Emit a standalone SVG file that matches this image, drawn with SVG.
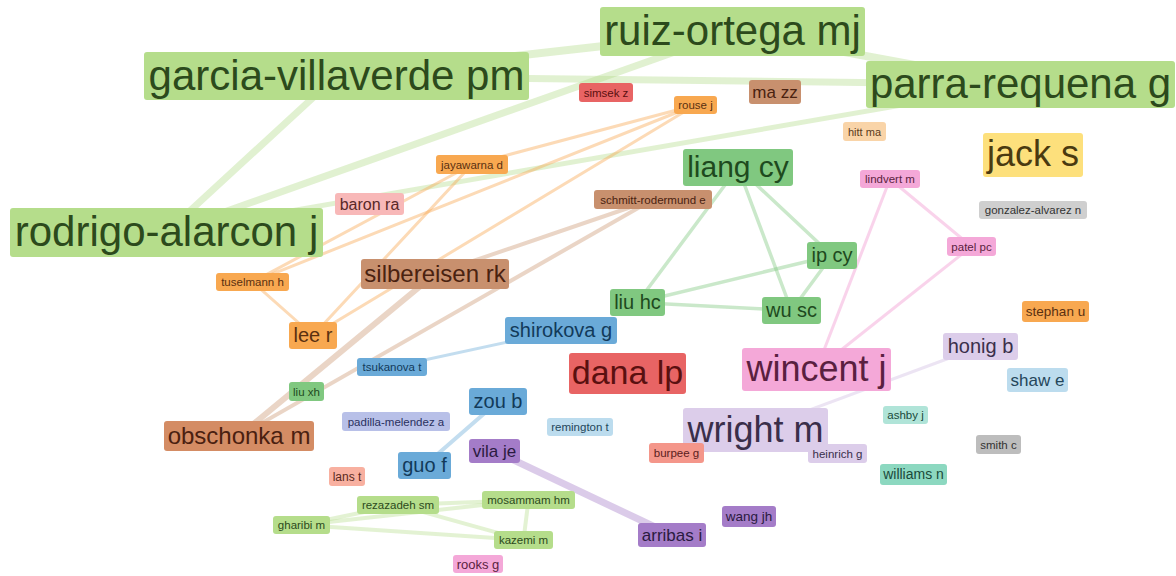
<svg xmlns="http://www.w3.org/2000/svg" width="1176" height="576" viewBox="0 0 1176 576">
<style>
text{font-family:"Liberation Sans",Arial,sans-serif;text-anchor:middle}
.e line{stroke-linecap:round;fill:none}
.elg{stroke:#b5dd8b;stroke-opacity:.4}
.eor{stroke:#f8a850;stroke-opacity:.42;stroke-width:3}
.ebr{stroke:#c8906a;stroke-opacity:.38}
.egr{stroke:#80c880;stroke-opacity:.42;stroke-width:3.5}
.epk{stroke:#f4a8d8;stroke-opacity:.5;stroke-width:3}
.ebl{stroke:#6aaad8;stroke-opacity:.4}
.epu{stroke:#a47cc8;stroke-opacity:.4;stroke-width:7}
.ela{stroke:#dccdea;stroke-opacity:.55;stroke-width:3}
.elg2{stroke:#b5dd8b;stroke-opacity:.38;stroke-width:4}
.lg rect{fill:#b5dd8b}.lg text{fill:#2c4a1c}
.gr rect{fill:#80c880}.gr text{fill:#1e4a1e}
.or rect{fill:#f8a850}.or text{fill:#5a3010}
.lo rect{fill:#f9d4a8}.lo text{fill:#5a3a1a}
.br rect{fill:#c8906e}.br text{fill:#4a2210}
.br2 rect{fill:#d48c64}.br2 text{fill:#4a2010}
.rd rect{fill:#e86464}.rd text{fill:#5a1010}
.ye rect{fill:#fde07c}.ye text{fill:#4a3a10}
.pk rect{fill:#f4a8d8}.pk text{fill:#5a1f40}
.sa rect{fill:#f8b8b8}.sa text{fill:#5a2828}
.sa2 rect{fill:#f4968a}.sa2 text{fill:#5a2020}
.sa3 rect{fill:#f8b0a0}.sa3 text{fill:#5a2820}
.gy rect{fill:#cfcfcf}.gy text{fill:#333333}
.gy2 rect{fill:#bdbdbd}.gy2 text{fill:#333333}
.bl rect{fill:#6aaad8}.bl text{fill:#123a5a}
.la rect{fill:#dccdea}.la text{fill:#3a2f4a}
.lb rect{fill:#bcdcee}.lb text{fill:#24465a}
.pw rect{fill:#b8c0e8}.pw text{fill:#2a3060}
.tl rect{fill:#b0e4d8}.tl text{fill:#1a4a3a}
.tl2 rect{fill:#8cd8c0}.tl2 text{fill:#1a4a3a}
.pu rect{fill:#a47cc8}.pu text{fill:#2a1a40}
</style>
<rect width="1176" height="576" fill="#ffffff"/>
<g id="connectors" class="e">
<line class="elg" stroke-width="8" x1="336.5" y1="76" x2="732.5" y2="31.5"/>
<line class="elg" stroke-width="7" x1="336.5" y1="76" x2="1020.5" y2="84.5"/>
<line class="elg" stroke-width="8" x1="732.5" y1="31.5" x2="1020.5" y2="84.5"/>
<line class="elg" stroke-width="7" x1="166.5" y1="232.5" x2="336.5" y2="76"/>
<line class="elg" stroke-width="7" x1="166.5" y1="232.5" x2="732.5" y2="31.5"/>
<line class="elg" stroke-width="5" x1="166.5" y1="232.5" x2="1020.5" y2="84.5"/>
<line class="eor" x1="695.5" y1="105" x2="472" y2="164.5"/>
<line class="eor" x1="695.5" y1="105" x2="252.5" y2="282"/>
<line class="eor" x1="695.5" y1="105" x2="313" y2="335.5"/>
<line class="eor" x1="472" y1="164.5" x2="252.5" y2="282"/>
<line class="eor" x1="472" y1="164.5" x2="313" y2="335.5"/>
<line class="eor" x1="252.5" y1="282" x2="313" y2="335.5"/>
<line class="ebr" stroke-width="4" x1="653" y1="199.5" x2="435" y2="274"/>
<line class="ebr" stroke-width="4" x1="653" y1="199.5" x2="239" y2="436"/>
<line class="ebr" stroke-width="6" x1="435" y1="274" x2="239" y2="436"/>
<line class="egr" x1="738" y1="167.5" x2="637.5" y2="302.5"/>
<line class="egr" x1="738" y1="167.5" x2="791.5" y2="310.5"/>
<line class="egr" x1="738" y1="167.5" x2="832" y2="255.5"/>
<line class="egr" x1="637.5" y1="302.5" x2="832" y2="255.5"/>
<line class="egr" x1="637.5" y1="302.5" x2="791.5" y2="310.5"/>
<line class="egr" x1="832" y1="255.5" x2="791.5" y2="310.5"/>
<line class="epk" x1="890" y1="179" x2="816.5" y2="369.5"/>
<line class="epk" x1="890" y1="179" x2="971.5" y2="246.5"/>
<line class="epk" x1="971.5" y1="246.5" x2="816.5" y2="369.5"/>
<line class="ebl" stroke-width="3" x1="561" y1="330.5" x2="392" y2="367"/>
<line class="ebl" stroke-width="4" x1="498" y1="401.5" x2="424.5" y2="465.5"/>
<line class="epu" x1="494.5" y1="451" x2="672" y2="535"/>
<line class="ela" x1="980.5" y1="346.5" x2="755.5" y2="430"/>
<line class="elg2" x1="398" y1="505" x2="528.5" y2="500"/>
<line class="elg2" x1="398" y1="505" x2="301.5" y2="525"/>
<line class="elg2" x1="398" y1="505" x2="523.5" y2="540"/>
<line class="elg2" x1="301.5" y1="525" x2="523.5" y2="540"/>
<line class="elg2" x1="301.5" y1="525" x2="528.5" y2="500"/>
<line class="elg2" x1="528.5" y1="500" x2="523.5" y2="540"/>
</g>
<g id="n-garcia-villaverde-pm" class="lg"><rect x="144" y="52" width="385" height="48" rx="3"/><text x="336.5" y="89.5" font-size="42">garcia-villaverde pm</text></g>
<g id="n-ruiz-ortega-mj" class="lg"><rect x="600" y="7" width="265" height="49" rx="3"/><text x="732.5" y="45" font-size="42">ruiz-ortega mj</text></g>
<g id="n-parra-requena-g" class="lg"><rect x="866" y="61" width="309" height="47" rx="3"/><text x="1020.5" y="98" font-size="42">parra-requena g</text></g>
<g id="n-rodrigo-alarcon-j" class="lg"><rect x="10" y="208" width="313" height="49" rx="3"/><text x="166.5" y="246" font-size="42">rodrigo-alarcon j</text></g>
<g id="n-ma-zz" class="br"><rect x="749" y="80" width="52" height="24" rx="3"/><text x="775" y="97.5" font-size="17">ma zz</text></g>
<g id="n-simsek-z" class="rd"><rect x="579" y="83" width="54" height="19" rx="3"/><text x="606" y="96.5" font-size="11.5">simsek z</text></g>
<g id="n-rouse-j" class="or"><rect x="674" y="96" width="43" height="18" rx="3"/><text x="695.5" y="109" font-size="11.5">rouse j</text></g>
<g id="n-hitt-ma" class="lo"><rect x="843" y="122" width="43" height="19" rx="3"/><text x="864.5" y="135.5" font-size="11">hitt ma</text></g>
<g id="n-jack-s" class="ye"><rect x="983" y="133" width="100" height="44" rx="3"/><text x="1033" y="166" font-size="36">jack s</text></g>
<g id="n-lindvert-m" class="pk"><rect x="860" y="170" width="60" height="18" rx="3"/><text x="890" y="183" font-size="11.5">lindvert m</text></g>
<g id="n-liang-cy" class="gr"><rect x="683" y="149" width="110" height="37" rx="3"/><text x="738" y="177" font-size="30">liang cy</text></g>
<g id="n-jayawarna-d" class="or"><rect x="436" y="155" width="72" height="19" rx="3"/><text x="472" y="168.5" font-size="11.5">jayawarna d</text></g>
<g id="n-baron-ra" class="sa"><rect x="335" y="193" width="69" height="22" rx="3"/><text x="369.5" y="209.5" font-size="16">baron ra</text></g>
<g id="n-schmitt-rodermund-e" class="br"><rect x="594" y="190" width="118" height="19" rx="3"/><text x="653" y="203.5" font-size="11.5">schmitt-rodermund e</text></g>
<g id="n-gonzalez-alvarez-n" class="gy"><rect x="979" y="201" width="108" height="18" rx="3"/><text x="1033" y="214" font-size="11.5">gonzalez-alvarez n</text></g>
<g id="n-patel-pc" class="pk"><rect x="947" y="237" width="49" height="19" rx="3"/><text x="971.5" y="250.5" font-size="11.5">patel pc</text></g>
<g id="n-ip-cy" class="gr"><rect x="807" y="242" width="50" height="27" rx="3"/><text x="832" y="262" font-size="20">ip cy</text></g>
<g id="n-tuselmann-h" class="or"><rect x="216" y="273" width="73" height="18" rx="3"/><text x="252.5" y="286" font-size="11.5">tuselmann h</text></g>
<g id="n-silbereisen-rk" class="br"><rect x="361" y="259" width="148" height="30" rx="3"/><text x="435" y="282" font-size="24">silbereisen rk</text></g>
<g id="n-liu-hc" class="gr"><rect x="610" y="289" width="55" height="27" rx="3"/><text x="637.5" y="309" font-size="20">liu hc</text></g>
<g id="n-wu-sc" class="gr"><rect x="762" y="297" width="59" height="27" rx="3"/><text x="791.5" y="317" font-size="20">wu sc</text></g>
<g id="n-stephan-u" class="or"><rect x="1022" y="301" width="67" height="21" rx="3"/><text x="1055.5" y="316" font-size="13.5">stephan u</text></g>
<g id="n-shirokova-g" class="bl"><rect x="505" y="317" width="112" height="27" rx="3"/><text x="561" y="337" font-size="20">shirokova g</text></g>
<g id="n-lee-r" class="or"><rect x="289" y="322" width="48" height="27" rx="3"/><text x="313" y="342" font-size="20">lee r</text></g>
<g id="n-honig-b" class="la"><rect x="943" y="333" width="75" height="27" rx="3"/><text x="980.5" y="353" font-size="20">honig b</text></g>
<g id="n-dana-lp" class="rd"><rect x="569" y="353" width="117" height="41" rx="3"/><text x="627.5" y="384" font-size="34">dana lp</text></g>
<g id="n-wincent-j" class="pk"><rect x="742" y="348" width="149" height="43" rx="3"/><text x="816.5" y="381" font-size="36">wincent j</text></g>
<g id="n-tsukanova-t" class="bl"><rect x="357" y="358" width="70" height="18" rx="3"/><text x="392" y="371" font-size="11.5">tsukanova t</text></g>
<g id="n-shaw-e" class="lb"><rect x="1007" y="368" width="61" height="24" rx="3"/><text x="1037.5" y="385.5" font-size="17">shaw e</text></g>
<g id="n-liu-xh" class="gr"><rect x="289" y="382" width="35" height="19" rx="3"/><text x="306.5" y="395.5" font-size="11.5">liu xh</text></g>
<g id="n-zou-b" class="bl"><rect x="469" y="388" width="58" height="27" rx="3"/><text x="498" y="408" font-size="20">zou b</text></g>
<g id="n-padilla-melendez-a" class="pw"><rect x="342" y="412" width="108" height="19" rx="3"/><text x="396" y="425.5" font-size="11.5">padilla-melendez a</text></g>
<g id="n-ashby-j" class="tl"><rect x="883" y="406" width="45" height="18" rx="3"/><text x="905.5" y="419" font-size="11.5">ashby j</text></g>
<g id="n-wright-m" class="la"><rect x="683" y="408" width="145" height="44" rx="3"/><text x="755.5" y="441.5" font-size="36">wright m</text></g>
<g id="n-remington-t" class="lb"><rect x="547" y="418" width="66" height="18" rx="3"/><text x="580" y="431" font-size="11.5">remington t</text></g>
<g id="n-obschonka-m" class="br2"><rect x="164" y="421" width="150" height="30" rx="3"/><text x="239" y="444" font-size="24">obschonka m</text></g>
<g id="n-smith-c" class="gy2"><rect x="976" y="435" width="45" height="19" rx="3"/><text x="998.5" y="448.5" font-size="11.5">smith c</text></g>
<g id="n-vila-je" class="pu"><rect x="469" y="439" width="51" height="24" rx="3"/><text x="494.5" y="456.5" font-size="17">vila je</text></g>
<g id="n-heinrich-g" class="la"><rect x="808" y="444" width="59" height="19" rx="3"/><text x="837.5" y="457.5" font-size="11.5">heinrich g</text></g>
<g id="n-burpee-g" class="sa2"><rect x="649" y="443" width="55" height="20" rx="3"/><text x="676.5" y="457" font-size="11.5">burpee g</text></g>
<g id="n-guo-f" class="bl"><rect x="398" y="452" width="53" height="27" rx="3"/><text x="424.5" y="472" font-size="20">guo f</text></g>
<g id="n-lans-t" class="sa3"><rect x="329" y="467" width="36" height="19" rx="3"/><text x="347" y="480.5" font-size="12">lans t</text></g>
<g id="n-williams-n" class="tl2"><rect x="880" y="464" width="67" height="21" rx="3"/><text x="913.5" y="479" font-size="14">williams n</text></g>
<g id="n-rezazadeh-sm" class="lg"><rect x="357" y="496" width="82" height="18" rx="3"/><text x="398" y="509" font-size="11.5">rezazadeh sm</text></g>
<g id="n-mosammam-hm" class="lg"><rect x="482" y="491" width="93" height="18" rx="3"/><text x="528.5" y="504" font-size="11.5">mosammam hm</text></g>
<g id="n-gharibi-m" class="lg"><rect x="273" y="516" width="57" height="18" rx="3"/><text x="301.5" y="529" font-size="11.5">gharibi m</text></g>
<g id="n-wang-jh" class="pu"><rect x="722" y="506" width="54" height="21" rx="3"/><text x="749" y="521" font-size="13.5">wang jh</text></g>
<g id="n-arribas-i" class="pu"><rect x="638" y="523" width="68" height="24" rx="3"/><text x="672" y="540.5" font-size="17">arribas i</text></g>
<g id="n-kazemi-m" class="lg"><rect x="494" y="531" width="59" height="18" rx="3"/><text x="523.5" y="544" font-size="11.5">kazemi m</text></g>
<g id="n-rooks-g" class="pk"><rect x="453" y="555" width="50" height="18" rx="3"/><text x="478" y="568.5" font-size="13">rooks g</text></g>
</svg>
